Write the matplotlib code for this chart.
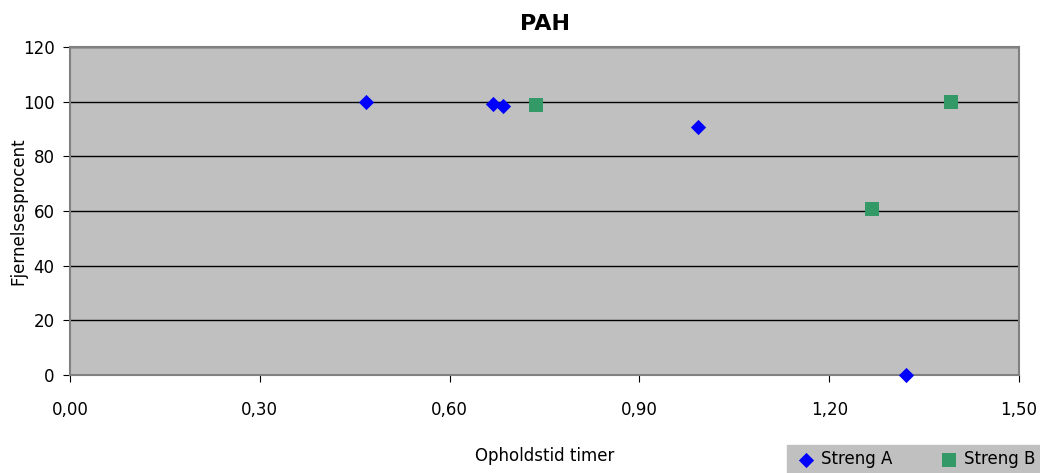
import matplotlib.pyplot as plt
from matplotlib.ticker import FixedLocator

# Data
streng_a_x = [0.468, 0.669, 0.684, 0.992, 1.322]
streng_a_y = [99.9, 99.3, 98.3, 90.8, 0.0]
streng_b_x = [0.737, 1.268, 1.393]
streng_b_y = [98.8, 60.7, 99.7]

x_ticks = [0.0, 0.3, 0.6, 0.9, 1.2, 1.5]
x_tick_labels = ["0,00", "0,30", "0,60", "0,90", "1,20", "1,50"]
y_ticks = [0, 20, 40, 60, 80, 100, 120]

plt.rcParams['font.family'] = ['DejaVu Sans']

fig = plt.figure(figsize=(10.4, 4.73), dpi=100)
ax = fig.add_axes([70 / 1040, 1 - 375 / 473, 949 / 1040, 328 / 473])
ax.set_facecolor("#C0C0C0")

ax.scatter(streng_a_x, streng_a_y, marker="D", s=60, color="#0000FF",
           label="Streng A", zorder=3, linewidths=0, clip_on=False)
ax.scatter(streng_b_x, streng_b_y, marker="s", s=110, color="#339966",
           label="Streng B", zorder=3, linewidths=0, clip_on=False)

ax.set_xlim(0, 1.5)
ax.set_ylim(0, 120)
ax.xaxis.set_major_locator(FixedLocator(x_ticks))
ax.set_xticklabels(x_tick_labels)
ax.set_yticks(y_ticks)
ax.yaxis.grid(True, color="black", linewidth=1)
ax.set_axisbelow(True)
for side in ["top", "right", "bottom", "left"]:
    ax.spines[side].set_color("#808080")
    ax.spines[side].set_linewidth(1.5)
ax.tick_params(axis="both", labelsize=12, length=5, color="black",
               direction="out", pad=6)
ax.tick_params(axis="x", pad=14)

ax.set_title("PAH", fontsize=16, fontweight="bold", pad=12)
fig.text(545 / 1040, 1 - 456 / 473, "Opholdstid timer", fontsize=12,
         ha="center", va="center")
fig.text(18 / 1040, 1 - 211 / 473, "Fjernelsesprocent", fontsize=12,
         ha="center", va="center", rotation=90)

leg = fig.legend(loc="lower right", bbox_to_anchor=(1.0, 0.0), ncol=2,
                 fontsize=12, frameon=True, fancybox=False,
                 handletextpad=0.1, columnspacing=2.6, borderpad=0.3,
                 handlelength=1.6, borderaxespad=0)
leg.get_frame().set_facecolor("#C0C0C0")
leg.get_frame().set_edgecolor("#C0C0C0")
leg.get_frame().set_alpha(1)

fig.savefig("out.png", dpi=100)
